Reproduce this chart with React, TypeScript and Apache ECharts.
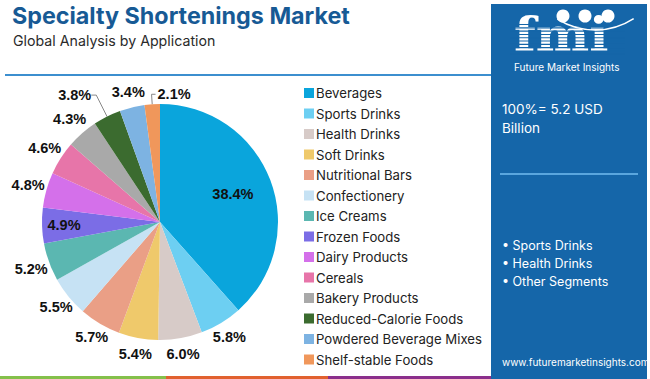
import React, { useEffect, useRef } from "react";
import * as echarts from "echarts";

const categories = [
  "Beverages",
  "Sports Drinks",
  "Health Drinks",
  "Soft Drinks",
  "Nutritional Bars",
  "Confectionery",
  "Ice Creams",
  "Frozen Foods",
  "Dairy Products",
  "Cereals",
  "Bakery Products",
  "Reduced-Calorie Foods",
  "Powdered Beverage Mixes",
  "Shelf-stable Foods",
];
const shares = [38.4, 5.8, 6.0, 5.4, 5.7, 5.5, 5.2, 4.9, 4.8, 4.6, 4.3, 3.8, 3.4, 2.1];
const colors = [
  "#0aa5dc", "#6dcff2", "#d7cbc8", "#efc96b", "#ea9f86", "#c6e2f4", "#5bb7b1",
  "#7b6de6", "#d470ea", "#e775a9", "#a9a9a9", "#3b6b2f", "#7db3e2", "#f0975b",
];
const bullets = ["• Sports Drinks", "• Health Drinks", "• Other Segments"];

const FONT = "Inter, 'Open Sans', sans-serif";
const LABEL_FONT = "'Liberation Sans', Arial, sans-serif";

export default function App() {
  const ref = useRef<HTMLDivElement>(null);
  useEffect(() => {
    if (!ref.current) return;
    const chart = echarts.init(ref.current, undefined, { renderer: "svg" });
    // label placement style per slice (index-based)
    const lineLen = (i: number) =>
      i === 0 ? -40 : i === 7 ? -22 : i === 11 ? 24 : i === 13 ? 10 : i === 6 || i === 8 || i === 9 || i === 10 ? 19 : 16;
    const data = categories.map((name, i) => ({
      name,
      value: shares[i],
      itemStyle: { color: colors[i] },
      labelLine: {
        show: i === 11 || i === 13,
        length: lineLen(i),
        length2: i === 11 ? 5 : 0,
      },
    }));
    const stripes: any[] = [];
    for (let y = 24; y <= 57; y += 3.3) {
      stripes.push({
        type: "rect",
        shape: { x: 510, y, width: 115, height: 1.1 },
        style: { fill: "#1566a9" },
        z: 12,
      });
    }
    chart.setOption({
      animation: false,
      color: colors,
      legend: {
        orient: "vertical",
        left: 299,
        top: 81,
        icon: "rect",
        itemWidth: 10,
        itemHeight: 10,
        itemGap: 6.5,
        textStyle: { fontFamily: FONT, fontSize: 13.2, color: "#222", lineHeight: 14, padding: [0, 0, 0, -3] },
        data: categories,
        selectedMode: false,
      },
      series: [
        {
          type: "pie",
          center: [160, 222],
          radius: 118,
          startAngle: 90,
          clockwise: true,
          avoidLabelOverlap: false,
          label: {
            show: true,
            position: "outside",
            overflow: "none",
            distanceToLabelLine: 0,
            formatter: (p: any) => p.value.toFixed(1) + "%",
            fontFamily: LABEL_FONT,
            fontWeight: "bold",
            fontSize: 14.5,
            color: "#111",
          },
          labelLine: { lineStyle: { color: "#888", width: 1 } },
          labelLayout: (p: any) => {
            const i = p.dataIndex;
            if (i === 11) {
              return { verticalAlign: "middle" };
            }
            if (i === 13) {
              const pts = p.labelLinePoints;
              if (!pts) return {};
              const e = pts[1];
              return {
                x: e[0] + 6,
                y: e[1],
                align: "left",
                verticalAlign: "middle",
                labelLinePoints: [pts[0], e, [e[0] + 4, e[1]]],
              };
            }
            return { align: "center", verticalAlign: "middle" };
          },
          data,
        },
      ],
      graphic: [
        { type: "text", left: 12, top: 4, style: { text: "Specialty Shortenings Market", font: `bold 23.3px ${FONT}`, fill: "#175a95" } },
        { type: "text", left: 13, top: 33, style: { text: "Global Analysis by Application", font: `14.2px ${FONT}`, fill: "#2a2a2a" } },
        { type: "rect", shape: { x: 5, y: 74, width: 487, height: 2 }, style: { fill: "#3c8fcf" } },
        { type: "rect", shape: { x: 491, y: 4, width: 156, height: 375 }, style: { fill: "#1566a9" }, z: 10 },
        {
          type: "text",
          x: 514,
          y: 35,
          scaleX: 1.15,
          scaleY: 1.05,
          style: { text: "fmi", font: "bold 44px 'DejaVu Serif', serif", fill: "#ffffff", verticalAlign: "middle", lineHeight: 34 },
          z: 11,
        },
        ...stripes,
        { type: "circle", shape: { cx: 563, cy: 16, r: 6.5 }, style: { fill: "#fff" }, z: 13 },
        { type: "circle", shape: { cx: 585, cy: 16, r: 6.5 }, style: { fill: "#fff" }, z: 13 },
        { type: "circle", shape: { cx: 608, cy: 16, r: 6.5 }, style: { fill: "#fff" }, z: 13 },
        { type: "arc", shape: { cx: 595, cy: -41, r: 71, startAngle: (57 * Math.PI) / 180, endAngle: (122 * Math.PI) / 180 }, style: { stroke: "#fff", lineWidth: 1.5, fill: "none" }, z: 13 },
        { type: "text", x: 514, y: 62, style: { text: "Future Market Insights", font: `10px ${FONT}`, fill: "#ffffff" }, z: 13 },
        { type: "text", x: 502, y: 102, style: { text: "100%= 5.2 USD", font: `13.5px ${FONT}`, fill: "#ffffff" }, z: 13 },
        { type: "text", x: 502, y: 121, style: { text: "Billion", font: `13.5px ${FONT}`, fill: "#ffffff" }, z: 13 },
        { type: "rect", shape: { x: 500, y: 173, width: 138, height: 2 }, style: { fill: "#5aa6de" }, z: 13 },
        ...bullets.map((b, i) => ({
          type: "text",
          x: 502,
          y: 239 + i * 18,
          style: { text: b, font: `12.5px ${FONT}`, fill: "#ffffff" },
          z: 13,
        })),
        { type: "text", x: 502, y: 357, style: { text: "www.futuremarketinsights.com", font: `10px ${FONT}`, fill: "#ffffff" }, z: 13 },
        { type: "rect", shape: { x: 0, y: 376, width: 166, height: 3 }, style: { fill: "#84c04b" } },
        { type: "rect", shape: { x: 166, y: 376, width: 162, height: 3 }, style: { fill: "#e1612f" } },
        { type: "rect", shape: { x: 328, y: 376, width: 163, height: 3 }, style: { fill: "#8b2f8c" } },
      ],
    });
    return () => chart.dispose();
  }, []);
  return (
    <div
      ref={ref}
      style={{ position: "fixed", left: 0, top: 0, width: 650, height: 379, background: "#fff" }}
    />
  );
}
